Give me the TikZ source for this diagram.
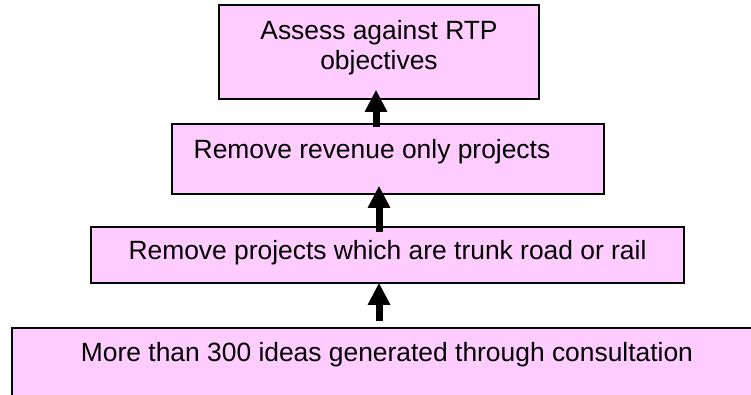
\documentclass[tikz,border=0pt]{standalone}
\usepackage{fontspec}
\setmainfont{Liberation Sans}
\usetikzlibrary{arrows.meta}
\definecolor{boxpink}{RGB}{255,204,255}
\begin{document}
\begin{tikzpicture}[
	x=1pt,y=-1pt,
	stagebox/.style={draw=black,line width=1.5pt,fill=boxpink,inner sep=0pt},
	stagetext/.style={inner sep=0pt,font=\fontsize{26.4}{30}\selectfont},
	uparrow/.style={line width=7pt,-{Triangle[width=21pt,length=22pt]}}
	]
	\clip (0,0) rectangle (751,394);
	
	\node[stagebox,minimum width=320,minimum height=94] (assess) at (379,52) {};
	\node[stagetext,align=center] (assess-t) at (379,48) {Assess against RTP\\objectives};
	
	\node[stagebox,minimum width=432,minimum height=70] (revenue) at (388,159) {};
	\node[stagetext] (revenue-t) at (372,152) {Remove revenue only projects};
	
	\node[stagebox,minimum width=593,minimum height=56] (trunk) at (387.5,255) {};
	\node[stagetext] (trunk-t) at (387.5,253) {Remove projects which are trunk road or rail};
	
	\node[stagebox,minimum width=748,minimum height=72] (ideas) at (386,364) {};
	\node[stagetext] (ideas-t) at (387,355) {More than 300 ideas generated through consultation};
	
	\draw[uparrow] ([shift={(-12,4)}]revenue.north) -- ([shift={(-3,-10)}]assess.south);
	\draw[uparrow] ([shift={(-8.5,6)}]trunk.north) -- ([shift={(-9,-9)}]revenue.south);
	\draw[uparrow] ([shift={(-7,-6)}]ideas.north) -- ([shift={(-8.5,-1)}]trunk.south);
\end{tikzpicture}
\end{document}
